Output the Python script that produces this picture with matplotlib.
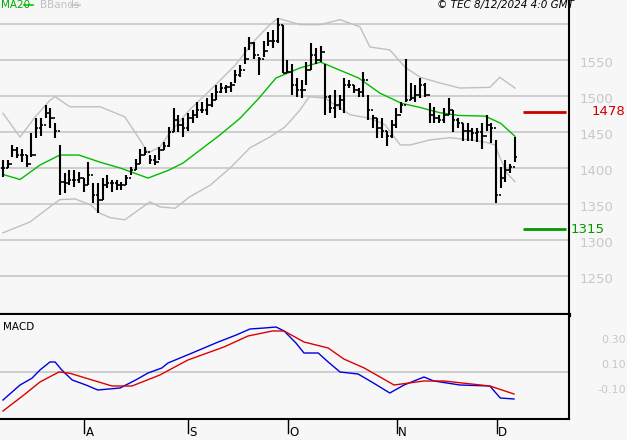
import matplotlib
matplotlib.use("Agg")
import matplotlib.pyplot as plt
import numpy as np

high = [1411,1411,1432,1429,1427,1418,1448,1469,1470,1487,1483,1463,1432,1393,1397,1397,1394,1386,1408,1379,
        1379,1386,1390,1383,1383,1380,1390,1401,1413,1427,1429,1418,1418,1429,1436,1457,1483,1473,1469,1476,
        1480,1491,1491,1497,1504,1515,1518,1515,1519,1536,1543,1568,1582,1575,1554,1577,1589,1591,1608,1598,
        1550,1545,1525,1522,1547,1573,1566,1570,1545,1501,1508,1501,1525,1522,1515,1511,1533,1501,1473,1470,
        1469,1452,1466,1483,1491,1552,1518,1515,1525,1518,1490,1484,1473,1483,1497,1480,1470,1463,1462,1455,
        1456,1463,1473,1462,1439,1401,1411,1406,1443]
low = [1387,1400,1415,1414,1408,1401,1415,1441,1445,1469,1456,1441,1362,1365,1376,1373,1379,1366,1376,1352,
       1338,1355,1372,1366,1369,1369,1376,1390,1397,1406,1418,1406,1404,1411,1425,1429,1450,1450,1443,1452,
       1462,1469,1476,1473,1484,1494,1504,1504,1505,1518,1526,1545,1564,1552,1529,1554,1570,1566,1573,1532,
       1532,1501,1498,1497,1515,1536,1545,1547,1473,1477,1470,1480,1477,1511,1504,1498,1498,1466,1456,1441,
       1441,1431,1441,1455,1476,1491,1494,1491,1497,1498,1463,1462,1462,1463,1473,1450,1456,1438,1438,1438,
       1436,1427,1452,1434,1352,1372,1380,1393,1408]
close = [1400,1406,1425,1418,1418,1406,1418,1455,1459,1477,1469,1452,1380,1379,1383,1383,1386,1376,1390,1362,
         1355,1376,1379,1379,1376,1376,1386,1397,1406,1418,1422,1411,1408,1425,1431,1450,1466,1459,1456,1469,
         1473,1480,1480,1487,1494,1505,1511,1512,1515,1529,1536,1552,1573,1557,1552,1563,1577,1577,1598,1532,
         1533,1515,1508,1508,1536,1557,1550,1561,1498,1483,1487,1494,1515,1515,1508,1505,1522,1480,1469,1455,
         1452,1445,1459,1473,1487,1494,1497,1501,1515,1501,1473,1469,1466,1473,1480,1466,1463,1452,1452,1448,
         1450,1445,1459,1455,1362,1386,1397,1401,1415]

ma_idx = [0,3.6,7.8,12,16,20.5,24.7,30.6,35,38,41.6,45.8,50,54,57.6,62.7,67,71,75,79.5,84,88,92,96,101.7,105,108]
ma_val = [1391,1384,1404,1418,1418,1408,1400,1386,1397,1407,1425,1446,1469,1497,1525,1539,1547,1536,1525,1504,1490,1484,1477,1473,1472,1462,1444]

up_idx = [0,3.6,6.8,9.9,11,14.1,20.5,25.7,28.9,30.6,33.1,35.2,39.4,43.7,49,53.2,56.3,58,60.6,62.7,66.9,71.1,75.3,77.4,81.6,84.8,88,92.2,96.4,102.7,104.8,108]
up_px  = [113,137,117,100,97,107,107,117,140,153,147,133,110,90,65,40,25,18,22,25,25,20,27,47,50,67,77,83,88,87,77,88]
lo_idx = [0,5.7,10.5,12,15.2,18.4,20.5,22.6,25.7,31.0,33.1,36.3,39.4,43.7,47.9,52.1,56.3,59.5,62.7,64.6,67.9,73.2,77.4,80.6,83.8,85.9,90.1,94.3,98.5,101.7,103.8,104.8,106.3,108]
lo_px  = [233,222,205,200,199,205,213,218,220,202,207,208,197,185,168,148,137,127,110,97,98,115,118,125,145,145,140,138,140,142,145,157,173,182]
up_val = [round(1633.3 - 1.3889 * y) for y in up_px]
lo_val = [round(1633.3 - 1.3889 * y) for y in lo_px]

macd_idx = [0,3.6,6.1,7.8,9.9,11,12.4,14.6,17.5,20,24.7,28,30.6,33.5,34.8,39.9,45.4,49.2,52.1,55.1,57.6,59.3,61.8,63.5,66.5,68.6,71.1,74.9,77.8,81.6,84.6,88.8,90.9,96.4,102.7,104.9,107.8]
macd_val = [-0.224,-0.104,-0.05,0.016,0.08,0.08,0.016,-0.064,-0.104,-0.144,-0.128,-0.064,-0.008,0.032,0.072,0.152,0.24,0.296,0.344,0.352,0.36,0.328,0.232,0.152,0.152,0.08,0,-0.016,-0.08,-0.168,-0.104,-0.04,-0.072,-0.104,-0.112,-0.208,-0.216]
sig_idx = [0,4.4,7.8,11.8,14.1,18.8,23,27.2,33.1,39,46.6,51.7,56.8,59.3,63.5,68.6,71.9,76.2,82.5,88.8,93,102.7,107.8]
sig_val = [-0.312,-0.184,-0.08,0,-0.01,-0.064,-0.112,-0.112,-0.024,0.096,0.2,0.288,0.328,0.328,0.24,0.192,0.104,0.032,-0.104,-0.072,-0.072,-0.112,-0.176]

month_idx = [17.1,39,60.1,83.1,104.2]
month_lbl = ["A","S","O","N","D"]
price_ticks = [1250,1300,1350,1400,1450,1500,1550]
macd_ticks = [0.30,0.10,-0.10]
macd_tick_lbl = ["0.30","0.10","-0.10"]
resistance = 1478
support = 1315

BG = "#f7f7f7"
GRID = "#c8c8c8"
fig = plt.figure(figsize=(6.27,4.4), dpi=100, facecolor=BG)
W = 569/627
ax = fig.add_axes([0, 1-315/440, W, 315/440], facecolor=BG)
ax2 = fig.add_axes([0, 1-419/440, W, 104/440], facecolor=BG)
xl = (-0.63, 119.4)
for a in (ax, ax2):
    a.set_xlim(*xl)
    a.set_xticks([]); a.set_yticks([])
    for s in ("left","top"):
        a.spines[s].set_visible(False)
    a.spines["right"].set_linewidth(1.5)
    a.spines["bottom"].set_linewidth(1.5)
ax.spines["bottom"].set_linewidth(3)

ax.set_ylim(1633.3-1.3889*315, 1633.3)
for p in price_ticks + [1600]:
    ax.axhline(p, color=GRID, lw=1.2, zorder=0)
    if p != 1600:
        ax.text(1.018, p - 5, str(p), transform=ax.get_yaxis_transform(), color="#c8c8c8",
                fontsize=9.5, ha="left", va="center", clip_on=False)

x = np.arange(len(close))
opens = [close[0]] + close[:-1]
ax.vlines(x, low, high, color="black", lw=1.5, zorder=3)
ax.hlines(close, x, x+0.45, color="black", lw=1.2, zorder=3)
ax.hlines(opens, x-0.45, x, color="black", lw=1.2, zorder=3)

ax.plot(up_idx, up_val, color="#c0c0c0", lw=1, zorder=1)
ax.plot(lo_idx, lo_val, color="#c0c0c0", lw=1, zorder=1)
ax.plot(ma_idx, ma_val, color="#00bb00", lw=1, zorder=2)

ax.hlines(resistance, 109.8, 118.8, color="#cc0000", lw=2)
ax.hlines(support, 109.8, 118.8, color="#009900", lw=2)
ax.text(1.04, resistance, str(resistance), transform=ax.get_yaxis_transform(), color="#cc0000",
        fontsize=9.5, ha="left", va="center", clip_on=False)
ax.text(1.003, support, str(support), transform=ax.get_yaxis_transform(), color="#009900",
        fontsize=9.5, ha="left", va="center", clip_on=False)

fig.text(0.001, 1-5/440, "MA20", color="#00aa00", fontsize=7.5, va="center")
fig.add_artist(plt.Line2D([24/627, 33/627], [1-5/440]*2, color="#00cc00", lw=1.2))
fig.text(40/627, 1-5/440, "BBands", color="#c0c0c0", fontsize=7.5, va="center")
fig.add_artist(plt.Line2D([71/627, 80/627], [1-5/440]*2, color="#c8c8c8", lw=1.2))
fig.text(574/627, 1-5/440, "© TEC 8/12/2024 4:0 GMT", color="black", fontsize=7.5,
         style="italic", ha="right", va="center")

ax2.set_ylim((372-419)/125, (372-315)/125)
ax2.axhline(0, color=GRID, lw=1.2, zorder=0)
ax2.plot(macd_idx, macd_val, color="#0000dd", lw=1)
ax2.plot(sig_idx, sig_val, color="#dd0000", lw=1)
ax2.text(0.005, 0.88, "MACD", transform=ax2.transAxes, fontsize=7.5, va="center")
for v, l in zip(macd_ticks, macd_tick_lbl):
    ax2.text(1.1, v - 0.04, l, transform=ax2.get_yaxis_transform(), color="#c8c8c8",
             fontsize=8, ha="right", va="center", clip_on=False)
for i, l in zip(month_idx, month_lbl):
    ax2.plot([i, i], [0, -0.13], transform=ax2.get_xaxis_transform(), color="black", lw=1, clip_on=False)
    ax2.text(i + 0.3, -0.13, l, transform=ax2.get_xaxis_transform(), fontsize=8.5, ha="left", va="center")

fig.savefig("out.png", dpi=100, facecolor=BG)
